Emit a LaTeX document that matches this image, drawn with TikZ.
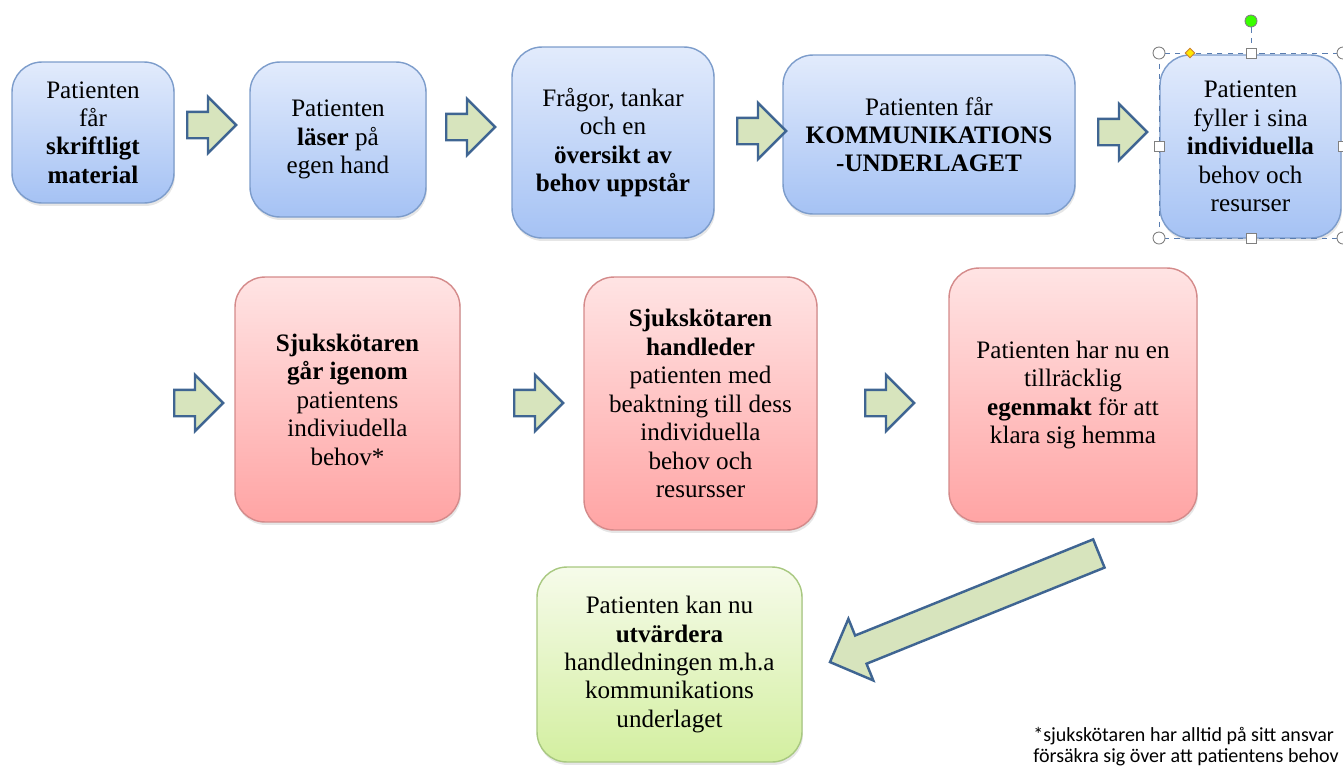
\documentclass[tikz,border=0pt]{standalone}
\usepackage{fontspec}
\setmainfont{Liberation Serif}
\newfontfamily\notefont{Carlito}
\usetikzlibrary{shapes.arrows,shapes.geometric,shadows}

\definecolor{bluetop}{HTML}{E2EBFC}
\definecolor{bluebot}{HTML}{A5C2F4}
\definecolor{blueline}{HTML}{7C9CCB}
\definecolor{redtop}{HTML}{FFE4E4}
\definecolor{redbot}{HTML}{FFA4A4}
\definecolor{redline}{HTML}{D48A8A}
\definecolor{greentop}{HTML}{F6FBEA}
\definecolor{greenbot}{HTML}{D3EFA0}
\definecolor{greenline}{HTML}{A8C880}
\definecolor{arrowfill}{HTML}{D7E4BD}
\definecolor{arrowline}{HTML}{3F6592}
\definecolor{selline}{HTML}{5A7DB0}

\tikzset{
  box/.style={draw, rounded corners=0.6cm, align=center, inner sep=0pt,
    line width=0.8pt, font=\fontsize{14.3}{16.2}\selectfont,
    drop shadow={shadow xshift=0.02cm, shadow yshift=-0.06cm, opacity=0.2}},
  bluebox/.style={box, draw=blueline, top color=bluetop, bottom color=bluebot},
  redbox/.style={box, draw=redline, top color=redtop, bottom color=redbot},
  greenbox/.style={box, draw=greenline, top color=greentop, bottom color=greenbot},
  blockarrow/.style={single arrow, draw=arrowline, fill=arrowfill, line width=1.4pt,
    inner xsep=0pt, inner ysep=0.24cm, single arrow head extend=0.3cm,
    minimum height=0.98cm, anchor=tail},
  handle/.style={draw=gray, fill=white, line width=0.5pt, inner sep=0pt}
}

\begin{document}
\begin{tikzpicture}[x=0.02cm,y=-0.02cm]
    \clip (0,0) rectangle (1343,765);

    % first row
    \node[bluebox, minimum width=3.24cm, minimum height=2.82cm] (skrift) at (93,132.5)
      {Patienten\\får\\\textbf{skriftligt}\\\textbf{material}};
    \node[bluebox, minimum width=3.52cm, minimum height=3.10cm] (laser) at (338,139.5)
      {Patienten\\\textbf{läser} på\\egen hand};
    \node[bluebox, minimum width=4.04cm, minimum height=3.82cm] (fragor) at (613,142.5)
      {Frågor, tankar\\och en\\\textbf{översikt av}\\\textbf{behov uppstår}};
    \node[bluebox, minimum width=5.84cm, minimum height=3.18cm] (komm) at (929,134.5)
      {Patienten får\\\textbf{KOMMUNIKATIONS}\\\textbf{-UNDERLAGET}};
    \node[bluebox, minimum width=3.62cm, minimum height=3.66cm] (fyller) at (1250.5,146.5)
      {Patienten\\fyller i sina\\\textbf{individuella}\\behov och\\resurser};

    % second row
    \node[redbox, minimum width=4.50cm, minimum height=4.90cm] (gar) at (347.5,399.5)
      {\textbf{Sjukskötaren}\\\textbf{går igenom}\\patientens\\indiviudella\\behov*};
    \node[redbox, minimum width=4.66cm, minimum height=5.06cm] (handl) at (700.5,403.5)
      {\textbf{Sjukskötaren}\\\textbf{handleder}\\patienten med\\beaktning till dess\\individuella\\behov och\\resursser};
    \node[redbox, minimum width=4.96cm, minimum height=5.08cm] (egen) at (1073,395)
      {Patienten har nu en\\tillräcklig\\\textbf{egenmakt} för att\\klara sig hemma};

    \node[greenbox, minimum width=5.30cm, minimum height=3.90cm] (utv) at (669.5,664.5)
      {Patienten kan nu\\\textbf{utvärdera}\\handledningen m.h.a\\kommunikations\\underlaget};

    % block arrows
    \node[blockarrow] (a1) at (186,125) {};
    \node[blockarrow] (a2) at (445,127) {};
    \node[blockarrow] (a3) at (736,131) {};
    \node[blockarrow] (a4) at (1097,132) {};
    \node[blockarrow] (a5) at (173,403) {};
    \node[blockarrow] (a6) at (513,403) {};
    \node[blockarrow] (a7) at (864,403) {};
    \node[blockarrow, rotate=202, minimum height=5.8cm, inner ysep=0.28cm,
      single arrow head extend=0.36cm] (adiag) at (1100,553) {};

    % selection frame round the last box
    \draw[selline, dashed, line width=0.5pt] (1159,53) rectangle (1343,238);
    \coordinate (rot) at (1251,53);
    \node[handle, circle, fill=green!70!lime, minimum size=0.24cm] (rotknob) at (1251,21) {};
    \draw[selline, dashed, line width=0.5pt] (rotknob) -- (rot);
    \foreach \x/\y [count=\i] in {1159/53,1343/53,1159/238,1343/238}
      \node[handle, circle, minimum size=0.24cm] (c\i) at (\x,\y) {};
    \foreach \x/\y [count=\i] in {1251/53,1251/238,1159/146,1343/146}
      \node[handle, rectangle, minimum size=0.2cm] (s\i) at (\x,\y) {};
    \node[handle, diamond, draw=orange!60!gray, fill=yellow!90!orange, minimum size=0.2cm,
      shape aspect=1] (adj) at (1190,53) {};

    % footnote
    \node[anchor=north west, align=left, inner sep=0pt, font=\notefont\fontsize{11.4}{12}\selectfont] (note) at (1033,727)
      {*sjukskötaren har alltid på sitt ansvar\\försäkra sig över att patientens behov};
\end{tikzpicture}
\end{document}
